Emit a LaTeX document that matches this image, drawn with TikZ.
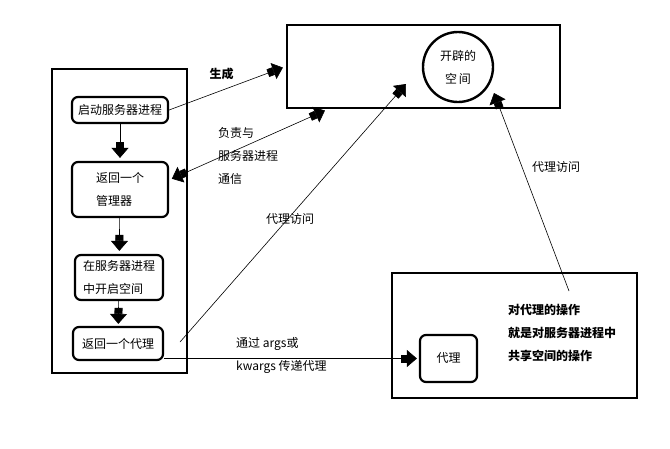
\documentclass[tikz,border=0pt]{standalone}
\usepackage{fontspec}
\setmainfont{Noto Sans CJK SC}
\usetikzlibrary{arrows.meta}

\begin{document}
\begin{tikzpicture}[x=1pt, y=-1pt,
  every node/.style={font=\fontsize{12}{23}\selectfont, align=left, inner sep=0pt},
  stage/.style={draw, rounded corners=6pt, line width=2.2pt},
  frame/.style={draw, line width=2.6pt},
  blk/.style={line width=0.6pt, -{Square[length=6pt,width=8pt,sep=0pt]Triangle[width=17pt,length=10pt,sep=0pt]}},
  dblk/.style={line width=0.6pt, {Triangle[width=17pt,length=10pt,sep=0pt]Square[length=6pt,width=8pt,sep=0pt]}-{Square[length=6pt,width=8pt,sep=0pt]Triangle[width=17pt,length=10pt,sep=0pt]}},
  note/.style={font=\fontsize{12}{23}\selectfont\bfseries}]
\useasboundingbox (0,0) rectangle (670,448);

\node[frame, minimum width=135pt, minimum height=304pt] (client) at (119.5,221) {};
\node[stage, minimum width=96pt, minimum height=26pt] (s1) at (120,110) {启动服务器进程};
\node[stage, minimum width=96pt, minimum height=55pt] (s2) at (120,189.5) {返回一个\\管理器};
\node[stage, minimum width=88pt, minimum height=45pt] (s3) at (119,277.5) {在服务器进程\\中开启空间};
\node[stage, minimum width=90pt, minimum height=33pt] (s4) at (118,343.5) {返回一个代理};

\node[frame, minimum width=273pt, minimum height=83pt] (server) at (423.5,66.5) {};
\node[circle, draw, line width=2.4pt, minimum size=70pt, align=center] (space) at (458,67) {开辟的\\空\,间};

\node[frame, minimum width=245pt, minimum height=125pt] (worker) at (514.5,335.5) {};
\node[stage, minimum width=57pt, minimum height=47pt] (proxy) at (448.5,358.5) {代理};
\node[note, anchor=west] (op) at (508,333) {对代理的操作\\就是对服务器进程中\\共享空间的操作};

\coordinate (acc1) at (406,84);
\coordinate (acc2) at (494,93);
\coordinate (src) at (180,342);
\coordinate (src2) at (569,291);

\draw[blk, shorten >=3pt] (s1) -- (s2);
\draw[blk, shorten >=3pt] (s2) -- (s3);
\draw[blk, shorten >=2pt] (s3) -- (s4);

\draw[blk, shorten >=3pt] (s1.east) -- (server.west) node[note, pos=0.45, above=10pt] (gen) {生成};
\draw[dblk, shorten <=3pt, shorten >=3pt] (s2.11) -- ([xshift=42pt]server.south west);
\node[anchor=west] (comm) at (218,156) {负责与\\服务器进程\\通信};
\draw[blk] (src) -- (acc1);
\node (acc1lbl) at (290,219) {代理访问};
\draw[blk] (src2) -- (acc2);
\node (acc2lbl) at (556,167) {代理访问};
\draw[blk, shorten >=2pt] (s4.east |- proxy) -- (proxy.west);
\node[anchor=west] (pass) at (236,355) {通过 args或\\kwargs 传递代理};
\end{tikzpicture}
\end{document}
